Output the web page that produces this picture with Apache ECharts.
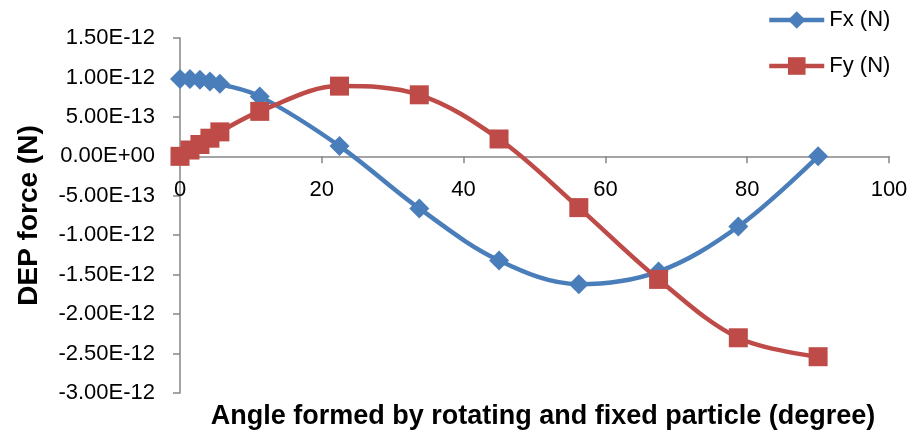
<!DOCTYPE html>
<html>
<head>
<meta charset="utf-8">
<script src="https://cdn.jsdelivr.net/npm/echarts@6/dist/echarts.min.js"></script>
<style>
  html, body { margin: 0; padding: 0; background: #fff; }
  #chart { width: 913px; height: 434px; }
</style>
</head>
<body>
<div id="chart"></div>
<script>
// 角度 (degree)
const angles = [0, 1.40625, 2.8125, 4.21875, 5.625, 11.25, 22.5, 33.75, 45, 56.25, 67.5, 78.75, 90];
// DEP force (N)
const fxValues = [0.98e-12, 0.98e-12, 0.97e-12, 0.95e-12, 0.92e-12, 0.76e-12, 0.13e-12, -0.66e-12, -1.32e-12, -1.62e-12, -1.46e-12, -0.89e-12, 0];
const fyValues = [0, 0.08e-12, 0.15e-12, 0.23e-12, 0.31e-12, 0.57e-12, 0.89e-12, 0.78e-12, 0.22e-12, -0.65e-12, -1.56e-12, -2.30e-12, -2.54e-12];
const seriesNames = ['Fx (N)', 'Fy (N)'];

const font = 'Liberation Sans, Arial, sans-serif';
const axisColor = '#868686';

// 网格位置
const gridTop = 38, gridBottom = 41, chartH = 434;
const yMin = -3e-12, yMax = 1.5e-12;
// x 轴放在 y=0 处
const plotH = chartH - gridTop - gridBottom;
const xAxisOffset = -plotH * (0 - yMin) / (yMax - yMin);

// 1.50E-12 这种格式
function sciLabel(v) {
  let s = Number(v).toExponential(2).toUpperCase();
  let [m, e] = s.split('E');
  let sign = e[0];
  let digits = e.slice(1).padStart(2, '0');
  return m + 'E' + sign + digits;
}

const chart = echarts.init(document.getElementById('chart'));
chart.setOption({
  animation: false,
  title: {
    text: 'Angle formed by rotating and fixed particle (degree)',
    left: 538,
    top: 398,
    textAlign: 'center',
    textStyle: { fontFamily: font, fontSize: 27, fontWeight: 'bold', color: '#000' }
  },
  legend: {
    orient: 'vertical',
    left: 762,
    top: 4,
    itemGap: 24,
    itemWidth: 55,
    itemHeight: 22,
    data: seriesNames,
    lineStyle: { width: 4.5 },
    textStyle: { fontFamily: font, fontSize: 22, color: '#000' }
  },
  grid: { left: 180, right: 24, top: gridTop, bottom: gridBottom, outerBoundsMode: 'none', containLabel: false },
  xAxis: {
    type: 'value',
    min: 0,
    max: 100,
    interval: 20,
    offset: xAxisOffset,
    axisLine: { onZero: false, lineStyle: { color: axisColor, width: 1.5 } },
    axisTick: { show: true, length: 7, lineStyle: { color: axisColor, width: 1.5 } },
    axisLabel: { margin: 23, fontFamily: font, fontSize: 22, color: '#000' },
    splitLine: { show: false }
  },
  yAxis: {
    type: 'value',
    min: yMin,
    max: yMax,
    interval: 5e-13,
    name: 'DEP force (N)',
    nameLocation: 'middle',
    nameRotate: 90,
    nameGap: 137,
    nameTextStyle: { fontFamily: font, fontSize: 28, fontWeight: 'bold', color: '#000' },
    axisLine: { show: true, lineStyle: { color: axisColor, width: 1.5 } },
    axisTick: { show: true, length: 7, lineStyle: { color: axisColor, width: 1.5 } },
    axisLabel: { margin: 25, fontFamily: font, fontSize: 22, color: '#000', formatter: sciLabel },
    splitLine: { show: false }
  },
  series: [
    {
      name: seriesNames[0],
      type: 'line',
      smooth: 0.35,
      symbol: 'diamond',
      symbolSize: 20,
      itemStyle: { color: '#4A7EBB' },
      lineStyle: { width: 4.5, color: '#4A7EBB' },
      data: angles.map((a, i) => [a, fxValues[i]])
    },
    {
      name: seriesNames[1],
      type: 'line',
      smooth: 0.35,
      symbol: 'rect',
      symbolSize: 19,
      itemStyle: { color: '#BE4B48' },
      lineStyle: { width: 4.5, color: '#BE4B48' },
      data: angles.map((a, i) => [a, fyValues[i]])
    }
  ]
});
</script>
</body>
</html>
